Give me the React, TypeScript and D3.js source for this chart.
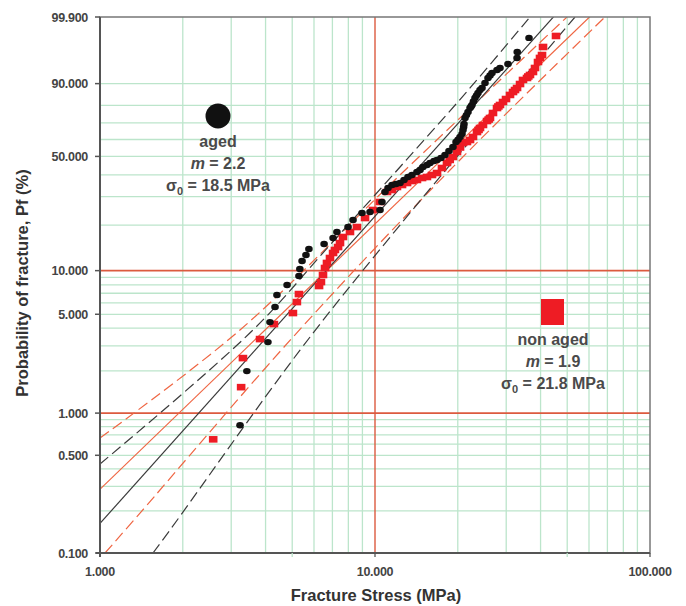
import * as d3 from 'd3';
import { useRef, useEffect } from 'react';

// --- Data (fracture stress in MPa, probability of fracture in %) ---
const agedStress = [3.23, 3.42, 4.08, 4.15, 4.33, 4.40, 4.79, 5.29, 5.33, 5.43, 5.61, 5.75, 6.53, 7.04, 7.27, 7.98, 8.32, 8.97, 9.59, 10.43, 10.60, 10.87, 11.15, 11.53, 11.92, 12.33, 12.75, 13.18, 13.63, 14.21, 14.58, 14.94, 15.45, 15.85, 16.39, 16.81, 17.38, 17.97, 18.58, 19.21, 19.71, 20.04, 20.38, 20.72, 20.89, 21.0, 21.07, 21.25, 21.5, 21.79, 22.16, 22.35, 22.53, 22.8, 23.10, 23.4, 23.69, 24.09, 24.50, 25.12, 25.76, 26.2, 26.64, 27.78, 28.48, 30.45, 32.85, 32.90, 36.31];
const agedPf = [0.82, 1.99, 3.19, 4.41, 5.62, 6.81, 7.98, 9.19, 10.26, 11.62, 12.75, 13.98, 15.08, 16.52, 18.07, 19.45, 21.57, 23.85, 24.20, 24.91, 27.88, 31.99, 33.75, 35.11, 35.58, 36.05, 37.50, 38.96, 39.96, 41.51, 42.52, 44.13, 45.21, 46.31, 47.40, 47.96, 49.08, 50.82, 53.13, 55.51, 58.48, 59.9, 61.52, 63.31, 65.75, 67.6, 69.36, 72.91, 74.6, 76.36, 78.56, 79.4, 80.19, 82.0, 83.75, 85.0, 86.08, 87.41, 88.27, 90.23, 92.01, 92.8, 93.56, 94.41, 94.92, 95.86, 97.03, 97.93, 99.25];

const nonAgedStress = [2.58, 3.26, 3.31, 3.82, 4.29, 5.03, 5.20, 5.29, 6.26, 6.36, 6.47, 6.58, 6.69, 6.86, 7.04, 7.15, 7.34, 7.46, 7.65, 8.11, 8.60, 9.20, 9.83, 10.43, 11.06, 11.53, 12.02, 12.54, 13.08, 13.63, 14.21, 14.83, 15.45, 16.12, 16.81, 17.52, 18.27, 18.7, 19.21, 19.87, 20.38, 20.89, 21.60, 22.16, 22.72, 23.49, 23.8, 24.09, 24.70, 25.55, 25.9, 26.19, 26.86, 27.78, 28.1, 28.48, 29.21, 29.95, 30.97, 31.76, 32.3, 32.85, 33.68, 34.53, 35.71, 36.1, 36.61, 37.54, 38.18, 39.15, 39.81, 40.49, 40.83, 45.52];
const nonAgedPf = [0.65, 1.53, 2.46, 3.35, 4.27, 5.10, 6.08, 6.91, 7.85, 8.36, 9.34, 10.42, 11.27, 12.17, 13.15, 13.77, 14.40, 15.30, 16.76, 18.07, 19.45, 22.19, 24.91, 27.88, 31.99, 32.85, 34.20, 35.11, 36.05, 36.99, 37.50, 38.45, 38.96, 39.96, 40.98, 43.59, 46.31, 48.0, 49.67, 52.54, 55.2, 57.90, 58.48, 59.69, 61.52, 64.53, 65.8, 66.96, 68.78, 71.14, 72.0, 72.91, 75.79, 78.56, 79.4, 80.19, 81.73, 83.24, 85.19, 86.53, 87.4, 88.27, 89.85, 91.33, 92.01, 92.5, 92.97, 93.85, 94.92, 96.27, 97.03, 97.50, 98.52, 99.36];

// Weibull fits
const agedM = 2.2, agedS0 = 18.5;
const nonAgedM = 1.9, nonAgedS0 = 21.8;

// confidence bounds
const agedUpperStress = [1.0, 3.60, 6.86, 12.33, 22.16, 36.6];
const agedUpperPf = [0.433, 3.88, 14.85, 44.13, 88.27, 99.9];
const agedLowerStress = [1.558, 1.797, 5.337, 12.33, 53.37];
const agedLowerPf = [0.1, 0.146, 2.80, 20.03, 99.9];
const nonAgedUpperStress = [1.0, 3.229, 12.33, 49.9];
const nonAgedUpperPf = [0.664, 3.88, 39.96, 99.9];
const nonAgedLowerStress = [1.043, 1.398, 5.031, 18.74, 68.6];
const nonAgedLowerPf = [0.1, 0.193, 3.46, 42.52, 99.9];

// axes
const yTicks = [0.1, 0.5, 1, 5, 10, 50, 90, 99.9];
const yGrid = [0.2, 0.3, 0.4, 0.5, 0.6, 0.7, 0.8, 0.9, 2, 3, 4, 5, 6, 7, 8, 9, 20, 30, 40, 50, 60, 70, 80, 90];
const yRed = [1, 10];
const xGrid = [2, 3, 4, 5, 6, 7, 8, 9, 20, 30, 40, 50, 60, 70, 80, 90];
const xTicks = [1, 10, 100];
const xTickMarks = [1, 5, 10, 50, 100];

const wb = (p: number) => Math.log(-Math.log(1 - p / 100));

export default function App() {
  const ref = useRef<SVGSVGElement>(null);

  useEffect(() => {
    const width = 686, height = 606;
    const left = 100, right = 650, top = 17, bottom = 553;

    const x = d3.scaleLog().domain([1, 100]).range([left, right]);
    const yw = d3.scaleLinear().domain([wb(0.1), wb(99.9)]).range([bottom, top]);
    const y = (p: number) => yw(wb(p));

    const svg = d3.select(ref.current)
      .attr('width', width)
      .attr('height', height)
      .attr('style', "position:absolute;left:0;top:0;font-family:'Liberation Sans', Arial, sans-serif;");
    svg.selectAll('*').remove();

    svg.append('defs').append('clipPath').attr('id', 'plot')
      .append('rect').attr('x', left).attr('y', top).attr('width', right - left).attr('height', bottom - top);

    const green = '#bce5cb';
    const red = '#dc5a3f';

    // grid
    svg.append('g').selectAll('line').data(yGrid).join('line')
      .attr('x1', left).attr('x2', right).attr('y1', d => y(d)).attr('y2', d => y(d))
      .attr('stroke', green).attr('stroke-width', 1.3);
    svg.append('g').selectAll('line').data(xGrid).join('line')
      .attr('x1', d => x(d)).attr('x2', d => x(d)).attr('y1', top).attr('y2', bottom)
      .attr('stroke', green).attr('stroke-width', 1.3);
    svg.append('g').selectAll('line').data(yRed).join('line')
      .attr('x1', left).attr('x2', right).attr('y1', d => y(d)).attr('y2', d => y(d))
      .attr('stroke', red).attr('stroke-width', 1.6);
    svg.append('line').attr('x1', x(10)).attr('x2', x(10)).attr('y1', top).attr('y2', bottom)
      .attr('stroke', red).attr('stroke-width', 1.4);

    // fit lines and bounds
    const lines = svg.append('g').attr('clip-path', 'url(#plot)');
    const pathOf = d3.line<[number, number]>()
      .x(d => x(d[0])).y(d => y(d[1]))
      .curve(d3.curveCatmullRom.alpha(0.5));
    const fit = (m: number, s0: number) => {
      const ws = [wb(0.05), wb(99.95)];
      return ws.map(w => [s0 * Math.exp(w / m), 100 * (1 - Math.exp(-Math.exp(w)))] as [number, number]);
    };
    const lineColor = { black: '#3a3a3a', red: '#ef6542' };

    const drawLine = (pts: [number, number][], color: string, dashed: boolean) => {
      lines.append('path').attr('d', pathOf(pts)).attr('fill', 'none')
        .attr('stroke', color).attr('stroke-width', 1.2)
        .attr('stroke-dasharray', dashed ? '11,5' : null);
    };
    const zipPts = (s: number[], p: number[]) => s.map((v, i) => [v, p[i]] as [number, number]);

    drawLine(zipPts(nonAgedUpperStress, nonAgedUpperPf), lineColor.red, true);
    drawLine(zipPts(nonAgedLowerStress, nonAgedLowerPf), lineColor.red, true);
    drawLine(zipPts(agedUpperStress, agedUpperPf), lineColor.black, true);
    drawLine(zipPts(agedLowerStress, agedLowerPf), lineColor.black, true);
    drawLine(fit(nonAgedM, nonAgedS0), lineColor.red, false);
    drawLine(fit(agedM, agedS0), lineColor.black, false);

    // data points
    svg.append('g').selectAll('rect').data(zipPts(nonAgedStress, nonAgedPf)).join('rect')
      .attr('x', d => x(d[0]) - 4.3).attr('y', d => y(d[1]) - 3.3)
      .attr('width', 8.6).attr('height', 6.6).attr('fill', '#ee1c24');
    svg.append('g').selectAll('ellipse').data(zipPts(agedStress, agedPf)).join('ellipse')
      .attr('cx', d => x(d[0])).attr('cy', d => y(d[1]))
      .attr('rx', 3.8).attr('ry', 3.2).attr('fill', '#111');

    // frame
    const axisColor = '#555';
    svg.append('rect').attr('x', left).attr('y', top).attr('width', right - left).attr('height', bottom - top)
      .attr('fill', 'none').attr('stroke', '#777').attr('stroke-width', 1.5);
    svg.append('line').attr('x1', left).attr('x2', left).attr('y1', top).attr('y2', bottom + 4)
      .attr('stroke', axisColor).attr('stroke-width', 2);
    svg.append('line').attr('x1', left - 4).attr('x2', right).attr('y1', bottom).attr('y2', bottom)
      .attr('stroke', axisColor).attr('stroke-width', 2);

    // y ticks
    svg.append('g').selectAll('line').data(yTicks).join('line')
      .attr('x1', left - 5).attr('x2', left).attr('y1', d => y(d)).attr('y2', d => y(d))
      .attr('stroke', axisColor).attr('stroke-width', 1.5);
    svg.append('g').selectAll('text').data(yTicks).join('text')
      .attr('x', 88).attr('y', d => y(d) + 4.5)
      .attr('text-anchor', 'end').attr('font-size', 12.5).attr('font-weight', 'bold')
      .attr('fill', '#444').attr('letter-spacing', -0.3)
      .text(d => d3.format('.3f')(d));

    // x ticks
    svg.append('g').selectAll('line').data(xTickMarks).join('line')
      .attr('x1', d => x(d)).attr('x2', d => x(d)).attr('y1', bottom).attr('y2', bottom + 4)
      .attr('stroke', d => (d === 5 || d === 50) ? green : axisColor).attr('stroke-width', 1.3);
    svg.append('g').selectAll('text').data(xTicks).join('text')
      .attr('x', d => x(d)).attr('y', 576)
      .attr('text-anchor', 'middle').attr('font-size', 12.5).attr('font-weight', 'bold')
      .attr('fill', '#444').attr('letter-spacing', -0.3)
      .text(d => d3.format('.3f')(d));

    // axis titles
    svg.append('text').attr('x', 376).attr('y', 601).attr('text-anchor', 'middle')
      .attr('font-size', 16.5).attr('font-weight', 'bold').attr('fill', '#333')
      .text('Fracture Stress (MPa)');
    svg.append('text').attr('transform', 'translate(28,283) rotate(-90)').attr('text-anchor', 'middle')
      .attr('font-size', 16.5).attr('font-weight', 'bold').attr('fill', '#333')
      .text('Probability of fracture, Pf (%)');

    // legend annotations
    const note = (cx: number, cy: number, name: string, m: number, s0: number) => {
      const g = svg.append('g').attr('font-size', 16).attr('font-weight', 'bold').attr('fill', '#4a4a4a')
        .attr('text-anchor', 'middle');
      g.append('text').attr('x', cx).attr('y', cy).text(name);
      const t2 = g.append('text').attr('x', cx).attr('y', cy + 22);
      t2.append('tspan').attr('font-style', 'italic').text('m');
      t2.append('tspan').text(` = ${m}`);
      const t3 = g.append('text').attr('x', cx).attr('y', cy + 44);
      t3.append('tspan').text('σ');
      t3.append('tspan').attr('font-size', 11).attr('dy', 4).text('0');
      t3.append('tspan').attr('dy', -4).text(` = ${s0} MPa`);
    };
    svg.append('circle').attr('cx', 218).attr('cy', 116).attr('r', 12.5).attr('fill', '#111');
    note(218, 147, 'aged', agedM, agedS0);
    svg.append('rect').attr('x', 541).attr('y', 299).attr('width', 23).attr('height', 26).attr('fill', '#ee1c24');
    note(553, 345, 'non aged', nonAgedM, nonAgedS0);
  }, []);

  return <svg ref={ref}></svg>;
}
